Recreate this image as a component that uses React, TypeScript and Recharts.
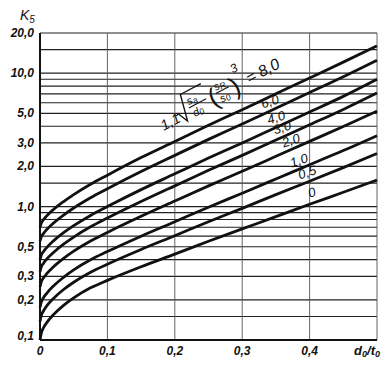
import { LineChart, Line, XAxis, YAxis, CartesianGrid, ReferenceDot } from "recharts"

// d0/t0 positions where each curve was read
const X_VALUES = [0, 0.002, 0.005, 0.01, 0.02, 0.035, 0.05, 0.075, 0.1, 0.15, 0.2, 0.25, 0.3, 0.35, 0.4, 0.45, 0.5]

// K5 for each parameter value 1,1·sqrt(sa/d0)·(sR/s0)^3
const K_8 = [0.7, 0.754, 0.796, 0.852, 0.951, 1.09, 1.23, 1.47, 1.72, 2.33, 3.08, 4.07, 5.32, 7.0, 9.2, 12.1, 16.0]
const K_6 = [0.55, 0.594, 0.627, 0.673, 0.752, 0.864, 0.976, 1.165, 1.36, 1.83, 2.42, 3.19, 4.16, 5.46, 7.16, 9.4, 12.5]
const K_4 = [0.4, 0.434, 0.459, 0.493, 0.553, 0.637, 0.719, 0.858, 1.0, 1.34, 1.76, 2.31, 3.0, 3.92, 5.12, 6.7, 9.0]
const K_3 = [0.325, 0.354, 0.375, 0.404, 0.453, 0.523, 0.591, 0.705, 0.82, 1.09, 1.43, 1.87, 2.42, 3.15, 4.1, 5.35, 7.1]
const K_2 = [0.25, 0.274, 0.291, 0.314, 0.354, 0.409, 0.463, 0.552, 0.64, 0.845, 1.1, 1.43, 1.84, 2.38, 3.08, 3.98, 5.2]
const K_1 = [0.175, 0.193, 0.207, 0.224, 0.254, 0.295, 0.335, 0.399, 0.46, 0.6, 0.77, 0.99, 1.26, 1.61, 2.06, 2.63, 3.4]
const K_05 = [0.1375, 0.153, 0.165, 0.18, 0.205, 0.239, 0.271, 0.322, 0.37, 0.477, 0.605, 0.77, 0.97, 1.23, 1.55, 1.96, 2.5]
const K_0 = [0.1, 0.113, 0.123, 0.135, 0.155, 0.182, 0.207, 0.246, 0.28, 0.354, 0.44, 0.55, 0.68, 0.84, 1.04, 1.28, 1.58]

const SERIES = [
  { key: "k8", values: K_8 },
  { key: "k6", values: K_6 },
  { key: "k4", values: K_4 },
  { key: "k3", values: K_3 },
  { key: "k2", values: K_2 },
  { key: "k1", values: K_1 },
  { key: "k05", values: K_05 },
  { key: "k0", values: K_0 },
]

const Y_TICKS = [0.1, 0.15, 0.2, 0.3, 0.4, 0.5, 0.6, 0.7, 0.8, 0.9, 1, 1.5, 2, 3, 4, 5, 6, 7, 8, 9, 10, 15, 20]
const Y_LABELS: Record<string, string> = {
  "0.1": "0,1", "0.2": "0,2", "0.3": "0,3", "0.5": "0,5", "1": "1,0",
  "2": "2,0", "3": "3,0", "5": "5,0", "10": "10,0", "20": "20,0",
}
const X_TICKS = [0, 0.1, 0.2, 0.3, 0.4, 0.5]
const X_LABELS: Record<string, string> = { "0": "0", "0.1": "0,1", "0.2": "0,2", "0.3": "0,3", "0.4": "0,4" }

// curve labels: text, d0/t0, K5
const CURVE_LABELS = [
  { text: "6,0", x: 0.341, y: 6.19 },
  { text: "4,0", x: 0.35, y: 4.69 },
  { text: "3,0", x: 0.359, y: 3.95 },
  { text: "2,0", x: 0.372, y: 3.16 },
  { text: "1,0", x: 0.384, y: 2.24 },
  { text: "0,5", x: 0.396, y: 1.82 },
  { text: "0", x: 0.403, y: 1.29 },
]

const FONT = "'Liberation Sans', Arial, sans-serif"
const INK = "#111"

const rows = X_VALUES.map((x, i) => {
  const r: Record<string, number> = { x }
  SERIES.forEach((s) => (r[s.key] = s.values[i]))
  return r
})

function YTick({ x, y, payload }: any) {
  const label = Y_LABELS[String(payload.value)]
  if (!label) return null
  return (
    <text x={x} y={y} dy={payload.value === 0.1 ? 0 : 4} textAnchor="end" fontFamily={FONT} fontStyle="italic"
      fontWeight={700} fontSize={12} fill={INK}>
      {label}
    </text>
  )
}

function XTick({ x, y, payload }: any) {
  if (payload.value === 0.5) {
    return (
      <text x={x + 3} y={y} dy={9} textAnchor="end" fontFamily={FONT} fontStyle="italic" fontWeight={700} fontSize={13} fill={INK}>
        d<tspan fontSize={9} dy={2}>0</tspan>
        <tspan dy={-2}>/t</tspan>
        <tspan fontSize={9} dy={2}>0</tspan>
      </text>
    )
  }
  return (
    <text x={x} y={y} dy={9} textAnchor="middle" fontFamily={FONT} fontStyle="italic" fontWeight={700} fontSize={12} fill={INK}>
      {X_LABELS[String(payload.value)]}
    </text>
  )
}

function CurveLabel({ cx, cy, text }: any) {
  return (
    <text x={cx} y={cy} dy={5} textAnchor="middle" transform={`rotate(-18 ${cx} ${cy})`}
      fontFamily={FONT} fontStyle="italic" fontSize={13} fill={INK}>
      {text}
    </text>
  )
}

function Formula({ cx, cy }: any) {
  const t = { fontFamily: FONT, fontStyle: "italic", fill: INK }
  return (
    <g transform={`translate(${cx},${cy}) rotate(-28) scale(1.22)`}>
      <text x={0} y={0} fontSize={12} {...t}>1,1</text>
      <path d="M15,-6 L17,-7 L21,2 L26,-20 L45,-20" fill="none" stroke={INK} strokeWidth={1.1} />
      <text x={28} y={-9} fontSize={9} {...t}>s<tspan fontSize={7} dy={1}>a</tspan></text>
      <line x1={27} y1={-7} x2={43} y2={-7} stroke={INK} strokeWidth={0.9} />
      <text x={28} y={2} fontSize={9} {...t}>d<tspan fontSize={7} dy={1}>0</tspan></text>
      <text x={45} y={2} fontSize={21} {...t} fontStyle="normal">(</text>
      <text x={53} y={-9} fontSize={9} {...t}>s<tspan fontSize={7} dy={1}>R</tspan></text>
      <line x1={52} y1={-7} x2={64} y2={-7} stroke={INK} strokeWidth={0.9} />
      <text x={53} y={2} fontSize={9} {...t}>s<tspan fontSize={7} dy={1}>0</tspan></text>
      <text x={65} y={2} fontSize={21} {...t} fontStyle="normal">)</text>
      <text x={72} y={-15} fontSize={10} {...t}>3</text>
      <text x={80} y={-1} fontSize={13} {...t}>= 8,0</text>
    </g>
  )
}

export default function App() {
  return (
    <div style={{ width: 390, height: 370, background: "#fff", position: "relative" }}>
      <style>{"body{margin:0}"}</style>
      <LineChart width={390} height={370} data={rows} margin={{ top: 33, right: 13, bottom: 0, left: 0 }}>
        <CartesianGrid horizontal vertical={false} stroke="#222" strokeWidth={1.2} />
        <CartesianGrid horizontal={false} vertical stroke="#555" strokeWidth={0.9} />
        <XAxis type="number" dataKey="x" domain={[0, 0.5]} ticks={X_TICKS} interval={0} height={30}
          axisLine={{ stroke: INK, strokeWidth: 2 }} tickLine={false} tickSize={0} tickMargin={6}
          tick={(p: any) => <XTick {...p} />} />
        <YAxis type="number" scale="log" domain={[0.1, 20]} allowDataOverflow ticks={Y_TICKS} interval={0} width={40}
          axisLine={{ stroke: INK, strokeWidth: 2 }} tickLine={false} tickSize={0} tickMargin={6}
          tick={(p: any) => <YTick {...p} />} />
        {SERIES.map((s) => (
          <Line key={s.key} type="monotone" dataKey={s.key} stroke={INK} strokeWidth={2.8}
            dot={false} isAnimationActive={false} />
        ))}
        <ReferenceDot x={0.1837} y={3.69} r={0} ifOverflow="visible" shape={(p: any) => <Formula {...p} />} />
        {CURVE_LABELS.map((l) => (
          <ReferenceDot key={l.text} x={l.x} y={l.y} r={0} ifOverflow="visible"
            shape={(p: any) => <CurveLabel {...p} text={l.text} />} />
        ))}
      </LineChart>
      <svg width={60} height={30} style={{ position: "absolute", left: 0, top: 0 }}>
        <text x={20} y={20} fontFamily={FONT} fontStyle="italic" fontSize={14} fill={INK}>
          K<tspan fontSize={10} dy={3}>5</tspan>
        </text>
      </svg>
    </div>
  )
}
